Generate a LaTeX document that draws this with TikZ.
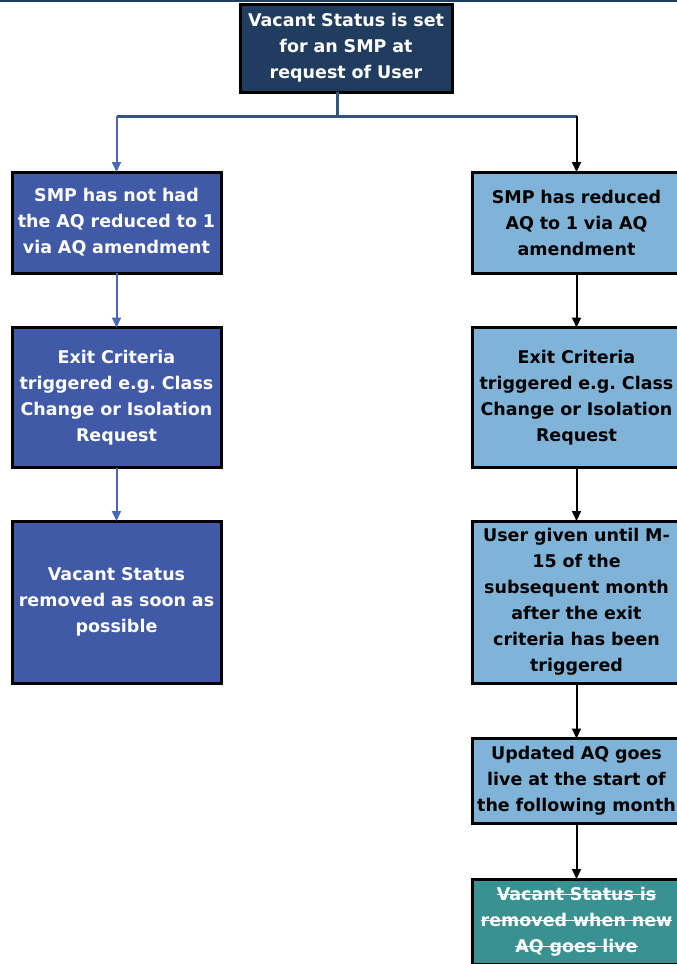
\documentclass[tikz,border=0pt]{standalone}
\usepackage{fontspec}
\setmainfont{DejaVu Sans}
\usepackage{xcolor}
\usetikzlibrary{calc, positioning, arrows.meta}

\definecolor{navybox}{HTML}{203D60}
\definecolor{royalbox}{HTML}{405AA8}
\definecolor{skybox}{HTML}{7FB4D8}
\definecolor{tealbox}{HTML}{3A9191}
\definecolor{stemline}{HTML}{34557F}
\definecolor{bluearrow}{HTML}{4A68BA}
\newcommand{\struck}[1]{\leavevmode\setbox0=\hbox{#1}\rlap{\raisebox{0.3em}{\rule{\wd0}{1.3pt}}}\box0}

\begin{document}
\begin{tikzpicture}[x=1pt, y=1pt, >={Triangle[width=9pt,length=10pt]}, semithick]
			\tikzstyle{box}=[rectangle, draw=black, line width=3pt, outer sep=0pt, minimum width=209pt, text width=205pt, inner xsep=2pt, inner ysep=2pt, align=center, font=\fontsize{17.5}{26}\selectfont\bfseries]
			\tikzstyle{leftbox}=[box, fill=royalbox, text=white]
			\tikzstyle{rightbox}=[box, fill=skybox, text=black]
			\tikzstyle{stem}=[stemline, line width=3pt]
			\tikzstyle{leftarrow}=[->, bluearrow, line width=2pt]
			\tikzstyle{rightarrow}=[->, black, line width=2pt]
			\path[use as bounding box, fill=white] (0,0) rectangle (677,-964);
			\clip (0,0) rectangle (677,-964);
			\draw[navybox, line width=4pt] (0,0) -- (677,0);
		    \node[box, fill=navybox, text=white, minimum width=212pt, text width=208pt, minimum height=88pt](vacant) at (346,-48)
				{Vacant Status is set\\ for an SMP at\\ request of User};
%		    left column
		    \node[leftbox, minimum height=101pt](nothad) at (116.5,-222.5)
				{SMP has not had\\ the AQ reduced to 1\\ via AQ amendment};
		    \node[leftbox, minimum height=140pt](exit-l)[below=54.5pt of nothad]
				{Exit Criteria\\ triggered e.g.\ Class\\ Change or Isolation\\ Request};
		    \node[leftbox, minimum height=162pt](removed-l)[below=53.5pt of exit-l]
				{Vacant Status\\ removed as soon as\\ possible};
%		    right column
		    \node[rightbox, minimum height=101pt](reduced) at (576.5,-222.5)
				{SMP has reduced\\ AQ to 1 via AQ\\ amendment};
		    \node[rightbox, minimum height=140pt](exit-r)[below=54.5pt of reduced]
				{Exit Criteria\\ triggered e.g.\ Class\\ Change or Isolation\\ Request};
		    \node[rightbox, minimum height=162pt](until)[below=53.5pt of exit-r]
				{User given until M-\\ 15 of the\\ subsequent month\\ after the exit\\ criteria has been\\ triggered};
		    \node[rightbox, minimum height=85pt](live)[below=55.5pt of until]
				{Updated AQ goes\\ live at the start of\\ the following month};
		    \node[box, fill=tealbox, text=white, minimum height=85pt](removed-r)[below=55.5pt of live]
				{\struck{Vacant Status is}\\ \struck{removed when new}\\ \struck{AQ goes live}};
%		    connectors
		    \coordinate (split) at (337,-116);
		    \draw[stem] (vacant.south -| split) -- (split);
		    \draw[stem] (nothad.north |- split) -- (reduced.north |- split);
		    \draw[leftarrow] (nothad.north |- split) -- (nothad.north);
		    \draw[rightarrow] (reduced.north |- split) -- (reduced.north);
		    \draw[leftarrow] (nothad) -- (exit-l);
		    \draw[leftarrow] (exit-l) -- (removed-l);
		    \draw[rightarrow] (reduced) -- (exit-r);
		    \draw[rightarrow] (exit-r) -- (until);
		    \draw[rightarrow] (until) -- (live);
		    \draw[rightarrow] (live) -- (removed-r);
		\end{tikzpicture}
\end{document}
